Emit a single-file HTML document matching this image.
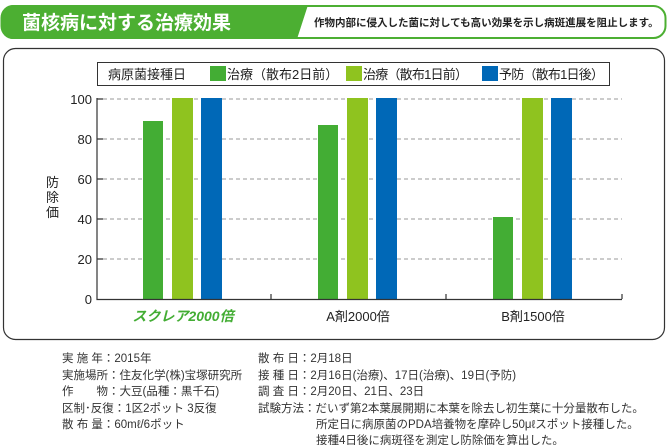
<!DOCTYPE html>
<html><head><meta charset="utf-8"><style>
body{margin:0;width:668px;height:445px;background:#fff;font-family:"Liberation Sans","Noto Sans CJK JP",sans-serif;overflow:hidden;position:relative}
</style></head><body>
<svg width="668" height="445" style="position:absolute;left:0;top:0" font-family="Liberation Sans, Noto Sans CJK JP, sans-serif">
<rect x="1.5" y="6" width="664" height="32" rx="12" fill="#fff" stroke="#4caf32" stroke-width="2"/>
<path d="M13 5 H308 L297 39 H13 A12 12 0 0 1 1 27 V17 A12 12 0 0 1 13 5Z" fill="#4caf32"/>
<text x="22" y="29" font-size="19" font-weight="bold" fill="#fff">菌核病に対する治療効果</text>
<text x="314" y="26" font-size="10.5" font-weight="bold" fill="#222">作物内部に侵入した菌に対しても高い効果を示し病斑進展を阻止します。</text>
<rect x="3.5" y="48.5" width="661" height="291" rx="12" fill="none" stroke="#333" stroke-width="1.2"/>
<rect x="97.5" y="62.5" width="512" height="23" fill="#fff" stroke="#333"/>
<text x="108" y="79" font-size="13" fill="#222">病原菌接種日</text>
<rect x="210" y="66" width="16" height="15" fill="#43ad34"/><text x="227" y="79" font-size="13" fill="#222">治療（散布2日前）</text>
<rect x="346" y="66" width="16" height="15" fill="#8fc31f"/><text x="363" y="79" font-size="13" fill="#222" textLength="105">治療（散布1日前）</text>
<rect x="482" y="66" width="16" height="15" fill="#0068b7"/><text x="499" y="79" font-size="13" fill="#222" textLength="105">予防（散布1日後）</text>
<g stroke="#999" stroke-dasharray="4,3" stroke-width="1">
<line x1="103" y1="99" x2="622" y2="99"/><line x1="103" y1="139" x2="622" y2="139"/><line x1="103" y1="179" x2="622" y2="179"/><line x1="103" y1="219" x2="622" y2="219"/><line x1="103" y1="259" x2="622" y2="259"/>
</g>
<g fill="#43ad34"><rect x="143" y="121" width="20" height="178"/><rect x="318" y="125" width="20" height="174"/><rect x="493" y="217" width="20" height="82"/></g>
<g fill="#8fc31f"><rect x="172" y="98" width="21" height="201"/><rect x="347" y="98" width="21" height="201"/><rect x="522" y="98" width="21" height="201"/></g>
<g fill="#0068b7"><rect x="201" y="98" width="21" height="201"/><rect x="376" y="98" width="21" height="201"/><rect x="551" y="98" width="21" height="201"/></g>
<g stroke="#333" stroke-width="1.2" fill="none">
<path d="M97 98 V299.5 H622"/>
<path d="M97 99 H103 M97 139 H103 M97 179 H103 M97 219 H103 M97 259 H103"/>
<path d="M271 299 V294 M446 299 V294 M622 299 V294"/>
</g>
<g font-size="13" fill="#222" text-anchor="end">
<text x="92" y="104">100</text><text x="92" y="144">80</text><text x="92" y="184">60</text><text x="92" y="224">40</text><text x="92" y="264">20</text><text x="92" y="304">0</text>
</g>
<text x="46" y="187" font-size="13" fill="#222">防</text><text x="46" y="202" font-size="13" fill="#222">除</text><text x="46" y="217" font-size="13" fill="#222">価</text>
<text x="183" y="321" font-size="14" font-weight="bold" fill="#43ad34" text-anchor="middle" font-style="italic">スクレア2000倍</text>
<text x="358" y="321" font-size="13" fill="#222" text-anchor="middle">A剤2000倍</text>
<text x="533" y="321" font-size="13" fill="#222" text-anchor="middle">B剤1500倍</text>
<g font-size="11.5" fill="#333">
<text x="62" y="362">実 施 年：2015年</text>
<text x="62" y="379">実施場所：住友化学(株)宝塚研究所</text>
<text x="62" y="395">作　　物：大豆(品種：黒千石)</text>
<text x="62" y="412">区制･反復：1区2ポット 3反復</text>
<text x="62" y="428">散 布 量：60mℓ/6ポット</text>
<text x="258" y="362">散 布 日：2月18日</text>
<text x="258" y="379">接 種 日：2月16日(治療)、17日(治療)、19日(予防)</text>
<text x="258" y="395">調 査 日：2月20日、21日、23日</text>
<text x="258" y="412">試験方法：だいず第2本葉展開期に本葉を除去し初生葉に十分量散布した。</text>
<text x="316" y="428">所定日に病原菌のPDA培養物を摩砕し50μℓスポット接種した。</text>
<text x="316" y="444">接種4日後に病斑径を測定し防除価を算出した。</text>
</g>
</svg>
</body></html>
